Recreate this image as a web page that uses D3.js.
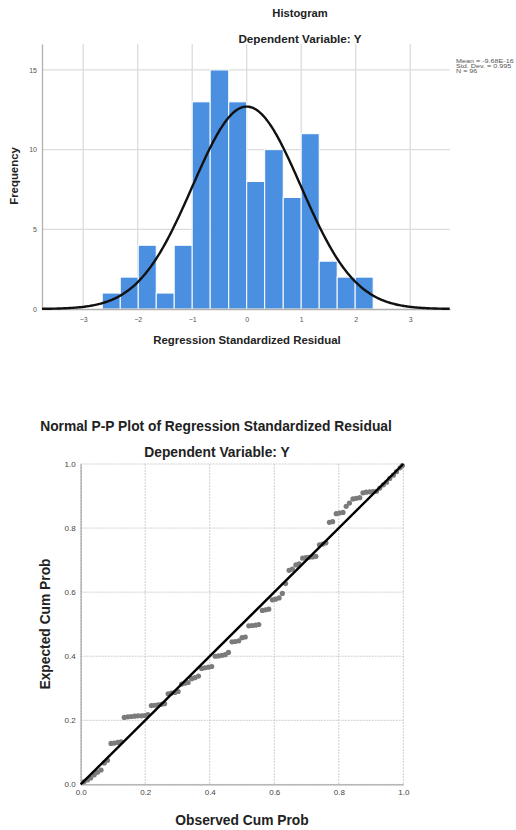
<!DOCTYPE html>
<html>
<head>
<meta charset="utf-8">
<script src="https://cdn.jsdelivr.net/npm/d3@7"></script>
<style>
  body { margin: 0; background: #fff; }
  text { font-family: "Liberation Sans", Arial, sans-serif; }
</style>
</head>
<body>
<div id="chart"></div>
<script>
//Histogram data: bin edges and frequencies
var binEdges = [-2.65, -2.32, -1.99, -1.66, -1.33, -1.00, -0.67, -0.33, 0, 0.33, 0.67, 1.00, 1.33, 1.66, 1.99, 2.32]
var binCounts = [1, 2, 4, 1, 4, 13, 15, 13, 8, 10, 7, 11, 3, 2, 2]
var histXTicks = [-3, -2, -1, 0, 1, 2, 3]
var histYTicks = [0, 5, 10, 15]
var statMean = -9.68e-16
var statSd = 0.995
var statN = 96
var statLines = ["Mean = -9.68E-16", "Std. Dev. = 0.995", "N = 96"]

//P-P plot data: observed cum prob and expected cum prob
var ppObserved = [0.010, 0.021, 0.031, 0.042, 0.052, 0.063, 0.073, 0.083, 0.094, 0.104,
                  0.115, 0.125, 0.135, 0.146, 0.156, 0.167, 0.177, 0.188, 0.198, 0.208,
                  0.219, 0.229, 0.240, 0.250, 0.260, 0.271, 0.281, 0.292, 0.302, 0.313,
                  0.323, 0.333, 0.344, 0.354, 0.365, 0.375, 0.385, 0.396, 0.406, 0.417,
                  0.427, 0.438, 0.448, 0.458, 0.469, 0.479, 0.490, 0.500, 0.510, 0.521,
                  0.531, 0.542, 0.552, 0.563, 0.573, 0.583, 0.594, 0.604, 0.615, 0.625,
                  0.635, 0.646, 0.656, 0.667, 0.677, 0.688, 0.698, 0.708, 0.719, 0.729,
                  0.740, 0.750, 0.760, 0.771, 0.781, 0.792, 0.802, 0.813, 0.823, 0.833,
                  0.844, 0.854, 0.865, 0.875, 0.885, 0.896, 0.906, 0.917, 0.927, 0.938,
                  0.948, 0.958, 0.969, 0.979, 0.990, 0.997]
var ppExpected = [0.008, 0.014, 0.020, 0.030, 0.038, 0.045, 0.067, 0.075, 0.128, 0.129,
                  0.131, 0.133, 0.209, 0.211, 0.212, 0.213, 0.214, 0.214, 0.215, 0.218,
                  0.246, 0.247, 0.248, 0.250, 0.252, 0.283, 0.285, 0.287, 0.290, 0.313,
                  0.316, 0.318, 0.330, 0.333, 0.338, 0.362, 0.364, 0.366, 0.368, 0.400,
                  0.401, 0.403, 0.405, 0.412, 0.445, 0.446, 0.448, 0.458, 0.460, 0.495,
                  0.496, 0.497, 0.499, 0.543, 0.545, 0.547, 0.576, 0.578, 0.582, 0.596,
                  0.627, 0.668, 0.672, 0.685, 0.688, 0.706, 0.708, 0.709, 0.710, 0.712,
                  0.748, 0.750, 0.754, 0.818, 0.820, 0.845, 0.847, 0.849, 0.868, 0.878,
                  0.891, 0.893, 0.895, 0.910, 0.912, 0.913, 0.914, 0.915, 0.925, 0.935,
                  0.943, 0.955, 0.965, 0.976, 0.988, 0.995]
var ppTicks = [0, 0.2, 0.4, 0.6, 0.8, 1.0]

var svg = d3.select("#chart")
            .append("svg")
            .attr("width", 516)
            .attr("height", 830)

// ---------- HISTOGRAM ----------
var hx = d3.scaleLinear().domain([-3.756, 3.73]).range([42, 450])
var hy = d3.scaleLinear().domain([0, 16.63]).range([309, 44])

var hist = svg.append("g")

//Grid lines
hist.append("g")
    .selectAll("line")
    .data(histXTicks)
    .enter().append("line")
    .attr("x1", d => hx(d)).attr("x2", d => hx(d))
    .attr("y1", hy.range()[1]).attr("y2", hy.range()[0])
    .attr("stroke", "#dcdcdc").attr("stroke-width", 1.3)

hist.append("g")
    .selectAll("line")
    .data(histYTicks.slice(1))
    .enter().append("line")
    .attr("x1", hx.range()[0]).attr("x2", hx.range()[1])
    .attr("y1", d => hy(d)).attr("y2", d => hy(d))
    .attr("stroke", "#dcdcdc").attr("stroke-width", 1.3)

//Bars
hist.append("g")
    .selectAll("rect")
    .data(binCounts)
    .enter().append("rect")
    .attr("x", (d, i) => hx(binEdges[i]))
    .attr("width", (d, i) => hx(binEdges[i + 1]) - hx(binEdges[i]))
    .attr("y", d => hy(d))
    .attr("height", d => hy(0) - hy(d))
    .attr("fill", "#4a8fe0")
    .attr("stroke", "#fff")
    .attr("stroke-width", 1)

//Axes
var hxAxis = d3.axisBottom(hx).tickValues(histXTicks).tickSize(0).tickPadding(8)
var hyAxis = d3.axisLeft(hy).tickValues(histYTicks).tickSize(0).tickPadding(5)

hist.append("g")
    .attr("transform", "translate(0," + hy(0) + ")")
    .call(hxAxis)
    .call(g => g.select(".domain").attr("stroke", "#b0b0b0").attr("stroke-width", 1.3))
    .call(g => g.selectAll("text").attr("fill", "#555").style("font-size", "7px"))

hist.append("g")
    .attr("transform", "translate(" + hx.range()[0] + ",0)")
    .call(hyAxis)
    .call(g => g.select(".domain").attr("stroke", "#b0b0b0").attr("stroke-width", 1.3))
    .call(g => g.selectAll("text").attr("fill", "#555").style("font-size", "7px"))

//Normal curve from mean, std. dev. and N
var binW = binEdges[1] - binEdges[0]
var curveX = d3.range(hx.domain()[0], hx.domain()[1], 0.02)
var curveLine = d3.line()
                  .x(d => hx(d))
                  .y(d => hy(statN * binW / (statSd * Math.sqrt(2 * Math.PI)) * Math.exp(-0.5 * Math.pow((d - statMean) / statSd, 2))))
hist.append("path")
    .datum(curveX)
    .attr("d", curveLine)
    .attr("fill", "none")
    .attr("stroke", "#111")
    .attr("stroke-width", 2.4)

//Titles and labels
hist.append("text").text("Histogram")
    .attr("x", 300).attr("y", 17)
    .attr("text-anchor", "middle")
    .style("font-size", "11.2px").style("font-weight", "bold").attr("fill", "#222")
hist.append("text").text("Dependent Variable: Y")
    .attr("x", 300).attr("y", 43)
    .attr("text-anchor", "middle")
    .style("font-size", "11.7px").style("font-weight", "bold").attr("fill", "#222")
hist.append("text").text("Regression Standardized Residual")
    .attr("x", 247).attr("y", 344)
    .attr("text-anchor", "middle")
    .style("font-size", "11.4px").style("font-weight", "bold").attr("fill", "#222")
hist.append("text").text("Frequency")
    .attr("transform", "translate(18,176) rotate(-90)")
    .attr("text-anchor", "middle")
    .style("font-size", "11.4px").style("font-weight", "bold").attr("fill", "#222")

//Statistics box
hist.append("g")
    .attr("transform", "translate(456,0) scale(1.2,1)")
    .selectAll("text")
    .data(statLines)
    .enter().append("text")
    .text(d => d)
    .attr("x", 0)
    .attr("y", (d, i) => 63.5 + i * 5)
    .style("font-size", "6px").attr("fill", "#555")

// ---------- P-P PLOT ----------
var px = d3.scaleLinear().domain([0, 1]).range([80.7, 403.3])
var py = d3.scaleLinear().domain([0, 1]).range([784.4, 464])

var pp = svg.append("g")

//Grid lines
pp.append("g")
  .selectAll("line")
  .data(ppTicks)
  .enter().append("line")
  .attr("x1", d => px(d)).attr("x2", d => px(d))
  .attr("y1", py(1)).attr("y2", py(0))
  .attr("stroke", "#cfcfcf").attr("stroke-width", 1).attr("stroke-dasharray", "2,1")
pp.append("g")
  .selectAll("line")
  .data(ppTicks)
  .enter().append("line")
  .attr("x1", px(0)).attr("x2", px(1))
  .attr("y1", d => py(d)).attr("y2", d => py(d))
  .attr("stroke", "#cfcfcf").attr("stroke-width", 1).attr("stroke-dasharray", "2,1")

//Axes
var pxAxis = d3.axisBottom(px).tickValues(ppTicks).tickFormat(d3.format(".1f")).tickSize(0).tickPadding(5)
var pyAxis = d3.axisLeft(py).tickValues(ppTicks).tickFormat(d3.format(".1f")).tickSize(0).tickPadding(5)

pp.append("g")
  .attr("transform", "translate(0," + py(0) + ")")
  .call(pxAxis)
  .call(g => g.select(".domain").attr("stroke", "#a8a8a8").attr("stroke-width", 1.2))
  .call(g => g.selectAll("text").attr("fill", "#444").style("font-size", "8px"))
pp.append("g")
  .attr("transform", "translate(" + px(0) + ",0)")
  .call(pyAxis)
  .call(g => g.select(".domain").attr("stroke", "#a8a8a8").attr("stroke-width", 1.2))
  .call(g => g.selectAll("text").attr("fill", "#444").style("font-size", "8px"))

//Points
pp.append("g")
  .selectAll("circle")
  .data(ppObserved)
  .enter().append("circle")
  .attr("cx", d => px(d))
  .attr("cy", (d, i) => py(ppExpected[i]))
  .attr("r", 2.6)
  .attr("fill", "#7b7b7b")

//Reference line
pp.append("line")
  .attr("x1", px(0)).attr("y1", py(0))
  .attr("x2", px(1)).attr("y2", py(1))
  .attr("stroke", "#000").attr("stroke-width", 2.4)

//Titles and labels
pp.append("text").text("Normal P-P Plot of Regression Standardized Residual")
  .attr("x", 216).attr("y", 431)
  .attr("text-anchor", "middle")
  .style("font-size", "13.8px").style("font-weight", "bold").attr("fill", "#222")
pp.append("text").text("Dependent Variable: Y")
  .attr("x", 217).attr("y", 457)
  .attr("text-anchor", "middle")
  .style("font-size", "13.8px").style("font-weight", "bold").attr("fill", "#222")
pp.append("text").text("Observed Cum Prob")
  .attr("x", 242).attr("y", 825)
  .attr("text-anchor", "middle")
  .style("font-size", "13.8px").style("font-weight", "bold").attr("fill", "#222")
pp.append("text").text("Expected Cum Prob")
  .attr("transform", "translate(50,624) rotate(-90)")
  .attr("text-anchor", "middle")
  .style("font-size", "13.8px").style("font-weight", "bold").attr("fill", "#222")
</script>
</body>
</html>
